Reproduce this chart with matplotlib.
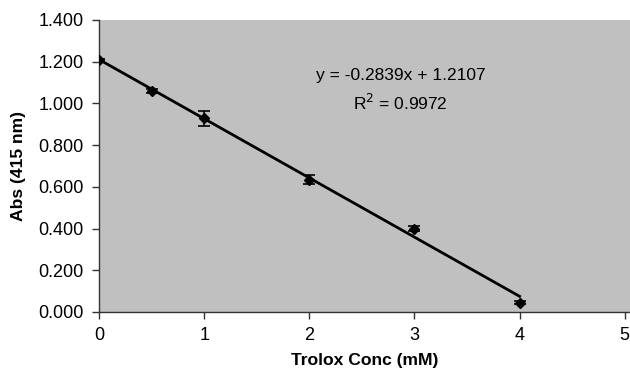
import matplotlib
matplotlib.use("Agg")
import matplotlib.pyplot as plt
import numpy as np
from matplotlib.ticker import FormatStrFormatter

plt.rcParams['font.family'] = ['Liberation Sans', 'DejaVu Sans']

conc = [0, 0.5, 1, 2, 3, 4]
absorb = [1.208, 1.059, 0.928, 0.635, 0.400, 0.045]
err = [0.006, 0.010, 0.035, 0.022, 0.012, 0.008]
slope = -0.2839
intercept = 1.2107
eq_text = "y = -0.2839x + 1.2107"
r2_text = "R$^2$ = 0.9972"

fig = plt.figure(figsize=(6.3, 3.8), dpi=100)
ax = fig.add_axes([99/630, 1-312/380, (630-99)/630, (312-20)/380])
ax.set_facecolor('#C0C0C0')

xf = np.array([0, 4])
ax.plot(xf, slope*xf + intercept, color='black', lw=2, zorder=2)
ax.errorbar(conc, absorb, yerr=err, fmt='D', color='black', ms=5.5,
            ecolor='black', elinewidth=1.2, capsize=4, capthick=1.2, zorder=3)

ax.set_xlim(0, 5.05)
ax.set_ylim(0, 1.4)
ax.set_xticks(range(0, 6))
ax.set_yticks(np.arange(0, 1.41, 0.2))
ax.yaxis.set_major_formatter(FormatStrFormatter('%.3f'))
for s in ['top', 'right']:
    ax.spines[s].set_visible(False)
for s in ['left', 'bottom']:
    ax.spines[s].set_color('#333333')
    ax.spines[s].set_linewidth(1)
ax.tick_params(direction='out', length=5, width=1, color='#333333',
               labelsize=13, pad=6)

ax.set_xlabel('Trolox Conc (mM)', fontsize=12.6, fontweight='bold', labelpad=6)
ax.set_ylabel('Abs (415 nm)', fontsize=12.6, fontweight='bold', labelpad=9)

ax.text(2.87, 1.136, eq_text, ha='center', va='center', fontsize=12.5)
ax.text(2.87, 1.0, r2_text, ha='center', va='center', fontsize=12.5)

fig.savefig('out.png', dpi=100)
